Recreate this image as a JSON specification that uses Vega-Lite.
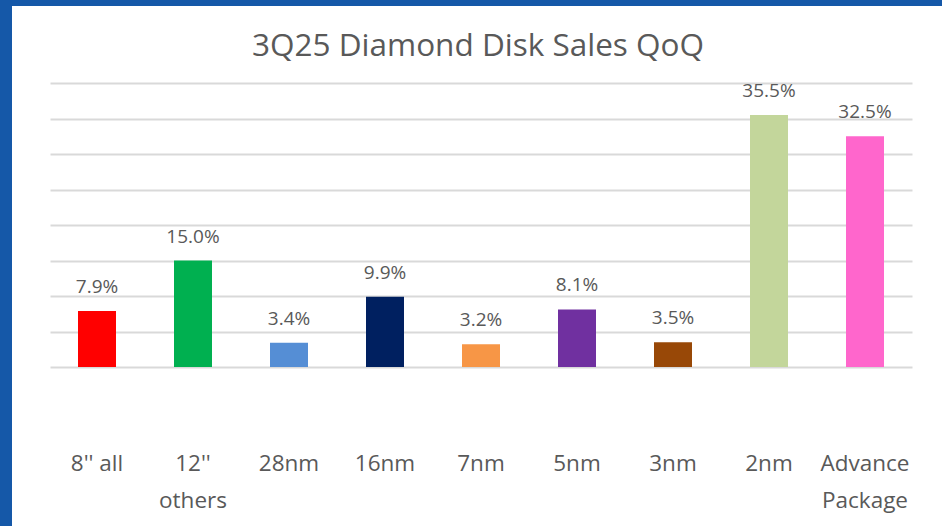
{
  "$schema": "https://vega.github.io/schema/vega-lite/v6.json",
  "width": 862,
  "height": 482,
  "autosize": {"type": "none"},
  "padding": {"left": 50, "top": 44, "right": 30, "bottom": 0},
  "background": "#1558a8",
  "config": {"view": {"fill": "white", "stroke": "white", "strokeWidth": 76}},
  "title": {
    "text": "3Q25 Diamond Disk Sales QoQ",
    "font": "Open Sans",
    "fontSize": 31.5,
    "fontWeight": "normal",
    "color": "#595959",
    "anchor": "middle",
    "baseline": "alphabetic",
    "offset": -43,
    "dx": -3
  },
  "data": {
    "values": [
      {"cat": "8'' all", "value": 7.9},
      {"cat": "12'' others", "value": 15.0},
      {"cat": "28nm", "value": 3.4},
      {"cat": "16nm", "value": 9.9},
      {"cat": "7nm", "value": 3.2},
      {"cat": "5nm", "value": 8.1},
      {"cat": "3nm", "value": 3.5},
      {"cat": "2nm", "value": 35.5},
      {"cat": "Advance Package", "value": 32.5}
    ]
  },
  "layer": [
    {
      "mark": {"type": "bar"},
      "encoding": {
        "x": {
          "field": "cat",
          "type": "nominal",
          "scale": {
            "domain": ["8'' all", "12'' others", "28nm", "16nm", "7nm", "5nm", "3nm", "2nm", "Advance Package"],
            "paddingInner": 0.6042,
            "paddingOuter": 0.2917,
            "align": 0.5
          },
          "axis": {
            "title": null,
            "orient": "bottom",
            "offset": -56,
            "domain": false,
            "ticks": false,
            "tickSize": 0,
            "labelPadding": 0,
            "labelBaseline": "alphabetic",
            "labelAngle": 0,
            "labelFont": "Open Sans",
            "labelFontSize": 22.5,
            "labelColor": "#595959",
            "labelLineHeight": 37,
            "labelOverlap": false,
            "labelLimit": 0,
            "labelExpr": "indexof(datum.label, 'others') >= 0 || indexof(datum.label, 'Package') >= 0 ? split(datum.label, ' ') : datum.label"
          }
        },
        "y": {
          "field": "value",
          "type": "quantitative",
          "scale": {"domain": [-22.394, 45.493], "nice": false, "zero": false},
          "axis": {
            "title": null,
            "values": [0, 5, 10, 15, 20, 25, 30, 35, 40],
            "grid": true,
            "gridColor": "#d9d9d9",
            "gridWidth": 2,
            "domain": false,
            "ticks": false,
            "labels": false
          }
        },
        "color": {
          "field": "cat",
          "type": "nominal",
          "scale": {
            "domain": ["8'' all", "12'' others", "28nm", "16nm", "7nm", "5nm", "3nm", "2nm", "Advance Package"],
            "range": ["#ff0000", "#00b050", "#558ed5", "#002060", "#f79646", "#7030a0", "#984807", "#c3d69b", "#ff66cc"]
          },
          "legend": null
        }
      }
    },
    {
      "transform": [{"calculate": "format(datum.value, '.1f') + '%'", "as": "label"}],
      "mark": {"type": "text", "font": "Open Sans", "fontSize": 19, "color": "#595959", "baseline": "alphabetic", "dy": -18},
      "encoding": {
        "x": {"field": "cat", "type": "nominal"},
        "y": {"field": "value", "type": "quantitative"},
        "text": {"field": "label"}
      }
    }
  ]
}
